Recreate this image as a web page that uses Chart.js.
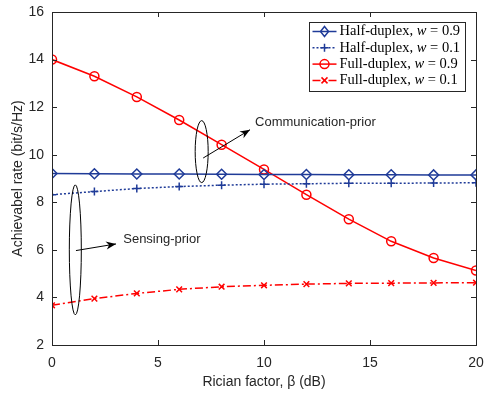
<!DOCTYPE html>
<html lang="en">
<head>
    <meta charset="UTF-8">
    <title>Achievable rate vs Rician factor</title>
    <script src="https://cdn.jsdelivr.net/npm/chart.js"></script>
    <style>
        body { margin: 0; padding: 0; background: #fff; }
        #wrap { width: 487px; height: 394px; }
    </style>
</head>
<body>
<div id="wrap"><canvas id="rateChart" width="487" height="394"></canvas></div>

<script>
    // Data
    const ricianDb = [0, 2, 4, 6, 8, 10, 12, 14, 16, 18, 20];
    const halfW09 = [9.21, 9.20, 9.19, 9.19, 9.18, 9.17, 9.17, 9.16, 9.16, 9.15, 9.15];
    const halfW01 = [8.32, 8.45, 8.58, 8.66, 8.72, 8.76, 8.78, 8.80, 8.80, 8.81, 8.82];
    const fullW09 = [14.0, 13.3, 12.43, 11.46, 10.42, 9.38, 8.32, 7.29, 6.36, 5.66, 5.13];
    const fullW01 = [3.67, 3.95, 4.17, 4.34, 4.45, 4.51, 4.56, 4.59, 4.60, 4.61, 4.62];
    const xTicks = [0, 5, 10, 15, 20];
    const yTicks = [2, 4, 6, 8, 10, 12, 14, 16];

    const BLUE = '#1f3b98';
    const RED = '#ff0000';
    const AXIS = '#262626';

    function toPoints(ys) {
        return ricianDb.map((x, i) => ({ x: x, y: ys[i] }));
    }

    // draw a marker like matlab does (not filled)
    function drawMarker(ctx, style, x, y, r) {
        ctx.beginPath();
        if (style === 'circle') {
            ctx.arc(x, y, r, 0, Math.PI * 2);
        } else if (style === 'rectRot') {
            ctx.moveTo(x, y - r); ctx.lineTo(x + r * 0.8, y); ctx.lineTo(x, y + r); ctx.lineTo(x - r * 0.8, y); ctx.closePath();
        } else if (style === 'cross') {
            ctx.moveTo(x - r, y); ctx.lineTo(x + r, y); ctx.moveTo(x, y - r); ctx.lineTo(x, y + r);
        } else if (style === 'crossRot') {
            const d = r * 0.75;
            ctx.moveTo(x - d, y - d); ctx.lineTo(x + d, y + d); ctx.moveTo(x + d, y - d); ctx.lineTo(x - d, y + d);
        }
        ctx.stroke();
    }

    // Box + inward ticks on all four sides
    const boxPlugin = {
        id: 'box',
        afterDraw(chart) {
            const { ctx, chartArea: a, scales } = chart;
            ctx.save();
            ctx.strokeStyle = AXIS;
            ctx.lineWidth = 1;
            ctx.strokeRect(a.left + 0.5, a.top + 0.5, a.right - a.left, a.bottom - a.top);
            const len = 5;
            ctx.beginPath();
            xTicks.forEach(v => {
                const px = Math.round(scales.x.getPixelForValue(v)) + 0.5;
                ctx.moveTo(px, a.bottom); ctx.lineTo(px, a.bottom - len);
                ctx.moveTo(px, a.top); ctx.lineTo(px, a.top + len);
            });
            yTicks.forEach(v => {
                const py = Math.round(scales.y.getPixelForValue(v)) + 0.5;
                ctx.moveTo(a.left, py); ctx.lineTo(a.left + len, py);
                ctx.moveTo(a.right, py); ctx.lineTo(a.right - len, py);
            });
            ctx.stroke();
            ctx.restore();
        }
    };

    // Ellipses, arrows and labels
    const notes = [
        { text: 'Communication-prior', ex: 7.06, ey: 10.13, rx: 6.5, ry: 31,
          from: [7.13, 9.86], to: [9.34, 11.05], tx: 9.58, ty: 11.36 },
        { text: 'Sensing-prior', ex: 1.1, ey: 6.0, rx: 6, ry: 65,
          from: [1.13, 5.97], to: [3.02, 6.25], tx: 3.36, ty: 6.42 }
    ];

    const notePlugin = {
        id: 'notes',
        afterDatasetsDraw(chart) {
            const { ctx, scales } = chart;
            const X = v => scales.x.getPixelForValue(v);
            const Y = v => scales.y.getPixelForValue(v);
            ctx.save();
            ctx.strokeStyle = '#000';
            ctx.fillStyle = '#000';
            ctx.lineWidth = 1;
            notes.forEach(n => {
                ctx.beginPath();
                ctx.ellipse(X(n.ex), Y(n.ey), n.rx, n.ry, 0, 0, Math.PI * 2);
                ctx.stroke();

                const x1 = X(n.from[0]), y1 = Y(n.from[1]);
                const x2 = X(n.to[0]), y2 = Y(n.to[1]);
                const ang = Math.atan2(y2 - y1, x2 - x1);
                ctx.beginPath();
                ctx.moveTo(x1, y1); ctx.lineTo(x2, y2);
                ctx.stroke();
                ctx.beginPath();
                ctx.moveTo(x2, y2);
                ctx.lineTo(x2 - 10 * Math.cos(ang) + 4 * Math.sin(ang), y2 - 10 * Math.sin(ang) - 4 * Math.cos(ang));
                ctx.lineTo(x2 - 7 * Math.cos(ang), y2 - 7 * Math.sin(ang));
                ctx.lineTo(x2 - 10 * Math.cos(ang) - 4 * Math.sin(ang), y2 - 10 * Math.sin(ang) + 4 * Math.cos(ang));
                ctx.closePath();
                ctx.fill();

                ctx.font = '13px "Liberation Sans", Arial, sans-serif';
                ctx.fillStyle = AXIS;
                ctx.textBaseline = 'middle';
                ctx.textAlign = 'left';
                ctx.fillText(n.text, X(n.tx), Y(n.ty));
                ctx.fillStyle = '#000';
            });
            ctx.restore();
        }
    };

    // Legend box in the top right, matlab style with italic w
    const legendPlugin = {
        id: 'matlabLegend',
        afterDraw(chart) {
            const { ctx } = chart;
            const left = 309.5, top = 22.5, w = 156, h = 69, row = 16.3;
            const serif = '"Liberation Serif", "Times New Roman", serif';
            ctx.save();
            ctx.fillStyle = '#fff';
            ctx.fillRect(left, top, w, h);
            ctx.strokeStyle = AXIS;
            ctx.lineWidth = 1;
            ctx.strokeRect(left, top, w, h);
            chart.data.datasets.forEach((ds, i) => {
                const y = top + 9 + i * row;
                ctx.strokeStyle = ds.borderColor;
                ctx.lineWidth = ds.borderWidth;
                ctx.setLineDash(ds.borderDash || []);
                ctx.beginPath();
                ctx.moveTo(left + 3, y); ctx.lineTo(left + 27, y);
                ctx.stroke();
                ctx.setLineDash([]);
                ctx.lineWidth = 1.5;
                drawMarker(ctx, ds.pointStyle, left + 15, y, ds.pointRadius);

                const parts = ds.label.split('w = ');
                ctx.fillStyle = '#000';
                ctx.textBaseline = 'middle';
                ctx.textAlign = 'left';
                let x = left + 30;
                ctx.font = '14.5px ' + serif;
                ctx.fillText(parts[0], x, y);
                x += ctx.measureText(parts[0]).width;
                ctx.font = 'italic 14.5px ' + serif;
                ctx.fillText('w', x, y);
                x += ctx.measureText('w').width;
                ctx.font = '14.5px ' + serif;
                ctx.fillText(' = ' + parts[1], x, y);
            });
            ctx.restore();
        }
    };

    const series = [
        { label: 'Half-duplex, w = 0.9', data: halfW09, color: BLUE, dash: [], style: 'rectRot', r: 5 },
        { label: 'Half-duplex, w = 0.1', data: halfW01, color: BLUE, dash: [2, 2], style: 'cross', r: 4 },
        { label: 'Full-duplex, w = 0.9', data: fullW09, color: RED, dash: [], style: 'circle', r: 4.5 },
        { label: 'Full-duplex, w = 0.1', data: fullW01, color: RED, dash: [8, 3, 2, 3], style: 'crossRot', r: 4 }
    ];

    new Chart(document.getElementById('rateChart'), {
        type: 'line',
        data: {
            datasets: series.map(s => ({
                label: s.label,
                data: toPoints(s.data),
                borderColor: s.color,
                backgroundColor: 'transparent',
                borderWidth: 1.5,
                borderDash: s.dash,
                pointStyle: s.style,
                pointRadius: s.r,
                pointBorderWidth: 1.5,
                pointBorderColor: s.color,
                pointBackgroundColor: 'transparent',
                tension: 0
            }))
        },
        options: {
            responsive: false,
            animation: false,
            devicePixelRatio: 1,
            layout: { padding: { top: 12, right: 11, left: 0, bottom: 0 } },
            plugins: {
                legend: { display: false },
                tooltip: { enabled: false }
            },
            scales: {
                x: {
                    type: 'linear',
                    min: 0, max: 20,
                    afterFit: s => { s.height = 49; s.paddingLeft = 0; s.paddingRight = 0; },
                    afterBuildTicks: s => { s.ticks = xTicks.map(v => ({ value: v })); },
                    grid: { display: false, drawTicks: false },
                    border: { display: false },
                    ticks: {
                        padding: 10,
                        color: AXIS,
                        font: { family: '"Liberation Sans", Arial, sans-serif', size: 14 }
                    },
                    title: {
                        display: true,
                        text: 'Rician factor, β (dB)',
                        color: AXIS,
                        padding: { top: 0, bottom: 3 },
                        font: { family: '"Liberation Sans", Arial, sans-serif', size: 14 }
                    }
                },
                y: {
                    min: 2, max: 16,
                    afterFit: s => { s.width = 52; s.paddingTop = 0; s.paddingBottom = 0; },
                    afterBuildTicks: s => { s.ticks = yTicks.map(v => ({ value: v })); },
                    grid: { display: false, drawTicks: false },
                    border: { display: false },
                    ticks: {
                        padding: 8,
                        color: AXIS,
                        font: { family: '"Liberation Sans", Arial, sans-serif', size: 14 }
                    },
                    title: {
                        display: true,
                        text: 'Achievabel rate (bit/s/Hz)',
                        color: AXIS,
                        padding: { top: 10, bottom: 0 },
                        font: { family: '"Liberation Sans", Arial, sans-serif', size: 14 }
                    }
                }
            }
        },
        plugins: [boxPlugin, notePlugin, legendPlugin]
    });
</script>
</body>
</html>
